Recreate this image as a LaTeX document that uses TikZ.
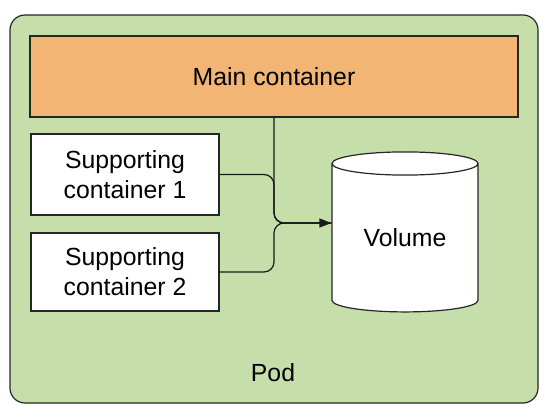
\documentclass[tikz,border=0pt]{standalone}
\usepackage{fontspec}
\setmainfont{Liberation Sans}
\usetikzlibrary{shapes.geometric,arrows.meta}

\definecolor{podgreen}{RGB}{198,222,170}
\definecolor{mainorange}{RGB}{243,181,115}

\def\joinX{274}
\def\joinY{223}

\begin{document}
\begin{tikzpicture}[x=0.5pt, y=-0.5pt, >={Triangle[length=6pt,width=4.5pt]},
    font=\fontsize{12.4}{15}\selectfont,
    box/.style={draw=black!85, line width=0.6pt, inner sep=0pt, align=center},
    link/.style={draw=black!90, line width=0.6pt, rounded corners=5pt}]
      \useasboundingbox (0,0) rectangle (549,418);
      \node[box, fill=podgreen, rounded corners=7.5pt,
            minimum width=264pt, minimum height=194pt] (pod) at (274,209) {};
      \node (podname) at (273,373) {Pod};
      \node[box, fill=mainorange, minimum width=244pt, minimum height=40.5pt]
            (main) at (274,76.5) {Main container};
      \node[box, fill=white, minimum width=94pt, minimum height=40.5pt]
            (sup1) at (125,174.5) {Supporting\\container 1};
      \node[box, fill=white, minimum width=94pt, minimum height=39pt]
            (sup2) at (125,272) {Supporting\\container 2};
      \node[box, fill=white, cylinder, shape border rotate=90, aspect=0.28,
            minimum width=73pt, minimum height=80pt] (vol) at (405,238) {Volume};
      \coordinate (join) at (\joinX,\joinY);
      \draw[link] (main.south) -- (join) -- (join -| vol.west);
      \draw[link] (sup1.east) -| (join) -- (join -| vol.west);
      \draw[link, ->] (sup2.east) -| (join) -- (join -| vol.west);
    \end{tikzpicture}
\end{document}
